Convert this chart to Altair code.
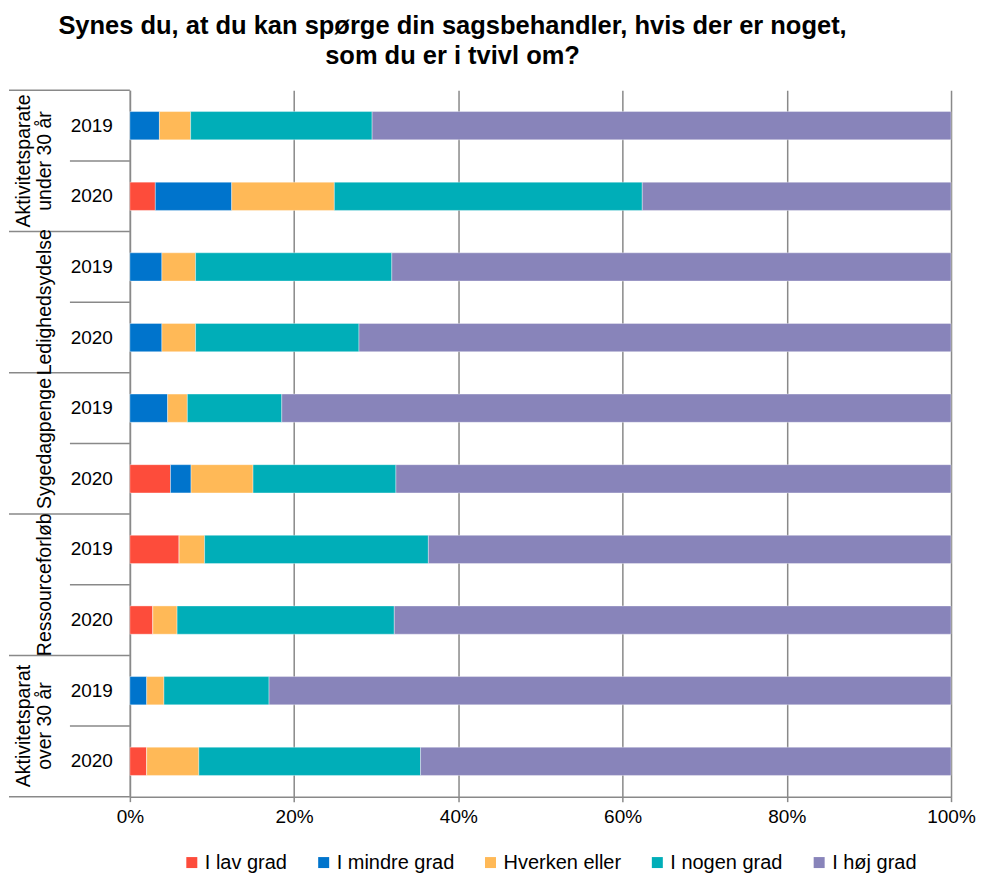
import altair as alt
import pandas as pd

FONT = "Liberation Sans, Arial, sans-serif"
GRAY = "#898989"

# ---- data -------------------------------------------------------------
groups = [
    ["Aktivitetsparate", "under 30 år"],
    ["Ledighedsydelse"],
    ["Sygedagpenge"],
    ["Ressourceforløb"],
    ["Aktivitetsparat", "over 30 år"],
]
years = ["2019", "2020"]
categories = ["I lav grad", "I mindre grad", "Hverken eller", "I nogen grad", "I høj grad"]
colors = ["#FD4C3B", "#0074CC", "#FFB957", "#00AEB8", "#8884BA"]

# one value per bar row (top to bottom), in percent
lav     = [0.0, 3.1, 0.0, 0.0, 0.0, 4.95, 6.0, 2.8, 0.0, 2.05]
mindre  = [3.6, 9.3, 3.9, 3.9, 4.6, 2.5, 0.0, 0.0, 2.05, 0.0]
hverken = [3.8, 12.5, 4.1, 4.1, 2.4, 7.55, 3.1, 2.95, 2.1, 6.35]
nogen   = [22.1, 37.5, 23.9, 19.9, 11.5, 17.4, 27.25, 26.45, 12.8, 27.0]
hoej    = [70.5, 37.6, 68.1, 72.1, 81.5, 67.6, 63.65, 67.8, 83.05, 64.6]
series = [lav, mindre, hverken, nogen, hoej]

x_ticks = [0, 20, 40, 60, 80, 100]

n_rows = len(groups) * len(years)

rows = []
for i in range(n_rows):
    for k, cat in enumerate(categories):
        rows.append({"row": i, "year": years[i % len(years)], "cat": cat,
                     "k": k, "value": series[k][i]})
df = pd.DataFrame(rows)

year_df = pd.DataFrame({"row": list(range(n_rows)),
                        "year": [years[i % len(years)] for i in range(n_rows)]})

first_lines = pd.DataFrame([{"g": g, "text": lines[0]}
                            for g, lines in enumerate(groups) if len(lines) > 1])
last_lines = pd.DataFrame([{"g": g, "text": lines[-1]}
                           for g, lines in enumerate(groups)])

group_seps = pd.DataFrame({"pos": [g * len(years) for g in range(len(groups) + 1)]})
year_seps = pd.DataFrame({"pos": [g * len(years) + 1 for g in range(len(groups))]})

# ---- chart ------------------------------------------------------------
y_scale = alt.Scale(domain=[0, n_rows], reverse=True, nice=False, zero=False)
x_scale = alt.Scale(domain=[0, 100], nice=False)

bars = (
    alt.Chart(df)
    .transform_stack(stack="value", groupby=["row"], as_=["x0", "x1"],
                     sort=[alt.SortField(field="k", order="ascending")])
    .transform_calculate(ya="datum.row + 0.3", yb="datum.row + 0.7")
    .mark_bar(stroke="white", strokeWidth=0.6, strokeOpacity=0.6)
    .encode(
        x=alt.X("x0:Q", scale=x_scale, title=None,
                axis=alt.Axis(values=x_ticks, labelExpr="datum.value + '%'",
                              grid=True, gridColor=GRAY, gridWidth=1.5,
                              domainColor=GRAY, domainWidth=1.5,
                              tickColor=GRAY, tickWidth=1.5, tickSize=5,
                              labelFontSize=19, labelColor="black",
                              labelPadding=6, labelFlush=False)),
        x2="x1:Q",
        y=alt.Y("ya:Q", scale=y_scale, title=None,
                axis=alt.Axis(labels=False, ticks=False, grid=False,
                              domainColor=GRAY, domainWidth=1.5)),
        y2="yb:Q",
        color=alt.Color("cat:N", scale=alt.Scale(domain=categories, range=colors),
                        legend=alt.Legend(orient="none", legendX=52, legendY=763,
                                          direction="horizontal", title=None,
                                          symbolType="square", symbolSize=121,
                                          symbolStrokeWidth=0, labelFontSize=20,
                                          labelFont=FONT, labelColor="black",
                                          columnPadding=26, labelOffset=3,
                                          padding=0)),
        order=alt.Order("k:Q"),
    )
)

year_text = (
    alt.Chart(year_df)
    .transform_calculate(ymid="datum.row + 0.5")
    .mark_text(align="right", baseline="middle", fontSize=19, font=FONT, color="black")
    .encode(x=alt.value(-17), y=alt.Y("ymid:Q", scale=y_scale, title=None), text="year:N")
)

grp1 = (
    alt.Chart(first_lines)
    .transform_calculate(yc="datum.g * 2 + 1")
    .mark_text(angle=270, align="center", baseline="alphabetic", fontSize=19.5,
               font=FONT, color="black")
    .encode(x=alt.value(-100), y=alt.Y("yc:Q", scale=y_scale, title=None), text="text:N")
)
grp2 = (
    alt.Chart(last_lines)
    .transform_calculate(yc="datum.g * 2 + 1")
    .mark_text(angle=270, align="center", baseline="alphabetic", fontSize=19.5,
               font=FONT, color="black")
    .encode(x=alt.value(-79), y=alt.Y("yc:Q", scale=y_scale, title=None), text="text:N")
)

gsep = (
    alt.Chart(group_seps)
    .mark_rule(color=GRAY, strokeWidth=1.5)
    .encode(y=alt.Y("pos:Q", scale=y_scale, title=None),
            x=alt.value(-121), x2=alt.value(0))
)
ysep = (
    alt.Chart(year_seps)
    .mark_rule(color=GRAY, strokeWidth=1.5)
    .encode(y=alt.Y("pos:Q", scale=y_scale, title=None),
            x=alt.value(-60), x2=alt.value(0))
)

chart = (
    alt.layer(bars, gsep, ysep, year_text, grp1, grp2)
    .properties(
        width=822, height=707,
        padding={"left": 0, "top": 5, "right": 0, "bottom": 0},
        title=alt.Title(
            text=["Synes du, at du kan spørge din sagsbehandler, hvis der er noget,",
                  "som du er i tvivl om?"],
            font=FONT, fontSize=25.5, fontWeight="bold", color="black",
            lineHeight=30, anchor="middle", frame="group", dx=-88, offset=20,
        ),
    )
    .configure_view(stroke=None)
    .configure_axis(labelFont=FONT)
)

chart.save("out.html", embed_options={"renderer": "svg", "actions": False})
